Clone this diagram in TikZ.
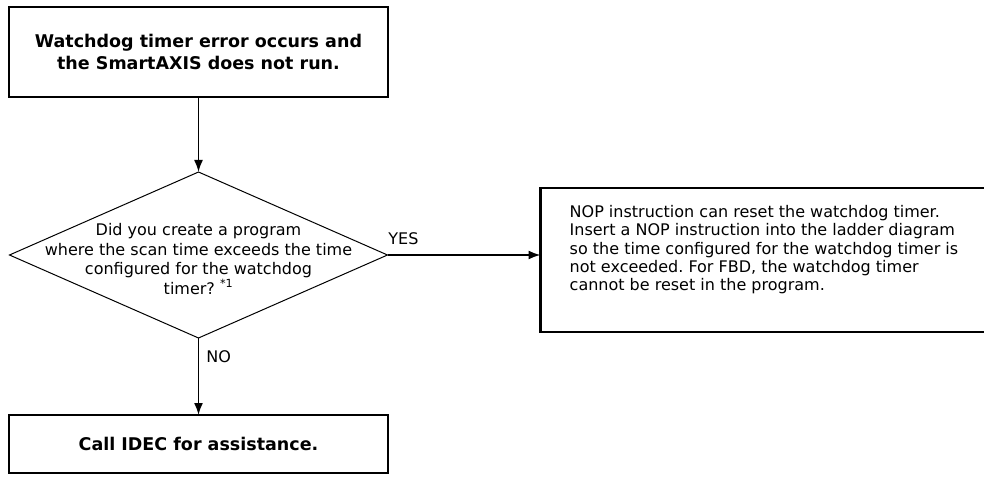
\documentclass[tikz,border=0pt]{standalone}
\usepackage{fontspec}
\setmainfont{DejaVu Sans}
\usetikzlibrary{arrows.meta,positioning,shapes.geometric}
\frenchspacing

\begin{document}
\begin{tikzpicture}[
    x=1pt, y=-1pt,
    font=\fontsize{16}{19.5}\selectfont,
    box/.style={draw, line width=2.6pt, outer sep=0pt, inner sep=0pt, align=center, minimum width=379pt, font=\fontsize{17.5}{22}\selectfont\bfseries},
    dec/.style={draw, diamond, line width=1pt, outer sep=0pt, inner sep=0pt, minimum width=378pt, minimum height=166pt},
    dectxt/.style={align=center, inner sep=0pt},
    notebox/.style={draw, line width=2.6pt, outer sep=0pt, inner sep=0pt, minimum width=460pt, minimum height=144pt},
    notetxt/.style={align=left, inner sep=0pt, font=\fontsize{16}{18.4}\selectfont},
    lbl/.style={inner sep=0pt},
    edge/.style={-{Latex[length=12pt, width=9pt]}, line width=1.8pt}
]
\useasboundingbox (0,0) rectangle (984,476);
\node[box, minimum height=90pt] (start) at (198.5,52) {Watchdog timer error occurs and\\the SmartAXIS does not run.};
\node[dec, below=75pt of start] (check) {};
\node[dectxt] (checktxt) at ([yshift=-4pt]check.center) {Did you create a program\\where the scan time exceeds the time\\configured for the watchdog\\timer? \textsuperscript{*1}};
\node[box, minimum height=58pt, below=77pt of check] (call) {Call IDEC for assistance.};
\node[notebox, right=153pt of check, yshift=-5pt] (note) {};
\node[notetxt, below right=17pt and 29pt of note.north west] (notetext) {NOP instruction can reset the watchdog timer.\\Insert a NOP instruction into the ladder diagram\\so the time configured for the watchdog timer is\\not exceeded. For FBD, the watchdog timer\\cannot be reset in the program.};
\draw[edge] (start)--(check);
\draw[edge] (check.east)--(check.east -| note.west) node[lbl, pos=0, above right=9pt and 0pt] {YES};
\draw[edge] (check.south)--(call) node[lbl, pos=0.24, right=7pt] {NO};
\end{tikzpicture}
\end{document}
